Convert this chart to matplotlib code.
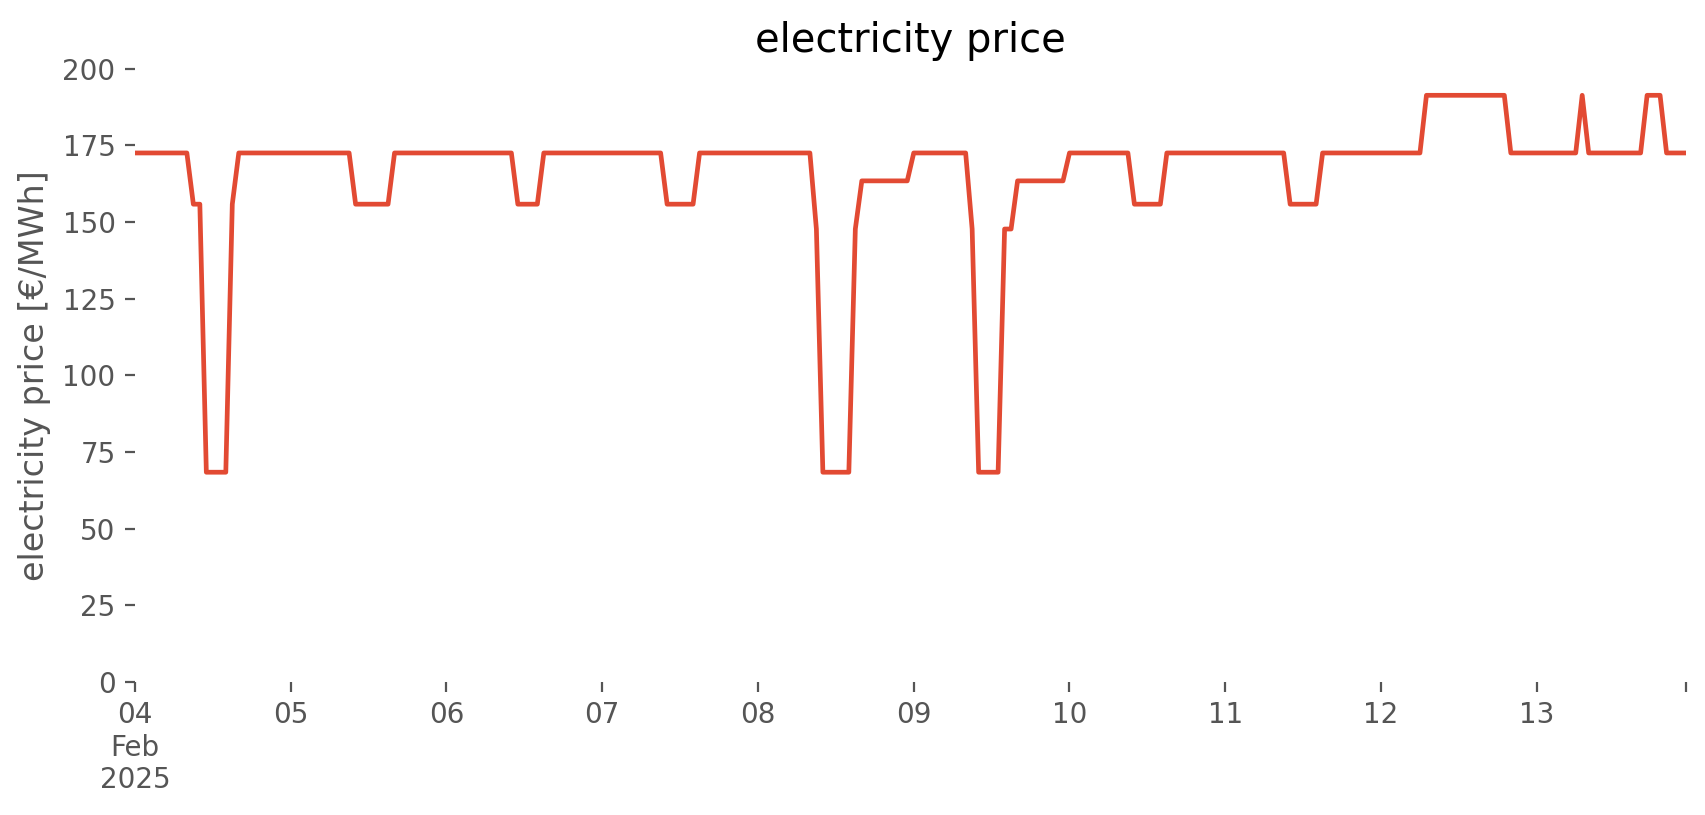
import numpy as np
import pandas as pd
import matplotlib
matplotlib.use("Agg")
import matplotlib.pyplot as plt

plt.style.use("ggplot")

# hourly electricity price, 04 Feb 2025 00:00 .. 13 Feb 2025 23:00
day_04 = [172.5, 172.5, 172.5, 172.5, 172.5, 172.5, 172.5, 172.5, 172.5, 155.8, 155.8, 68.4,
          68.4, 68.4, 68.4, 155.8, 172.5, 172.5, 172.5, 172.5, 172.5, 172.5, 172.5, 172.5]
day_05 = [172.5, 172.5, 172.5, 172.5, 172.5, 172.5, 172.5, 172.5, 172.5, 172.5, 155.8, 155.8,
          155.8, 155.8, 155.8, 155.8, 172.5, 172.5, 172.5, 172.5, 172.5, 172.5, 172.5, 172.5]
day_06 = [172.5, 172.5, 172.5, 172.5, 172.5, 172.5, 172.5, 172.5, 172.5, 172.5, 172.5, 155.8,
          155.8, 155.8, 155.8, 172.5, 172.5, 172.5, 172.5, 172.5, 172.5, 172.5, 172.5, 172.5]
day_07 = [172.5, 172.5, 172.5, 172.5, 172.5, 172.5, 172.5, 172.5, 172.5, 172.5, 155.8, 155.8,
          155.8, 155.8, 155.8, 172.5, 172.5, 172.5, 172.5, 172.5, 172.5, 172.5, 172.5, 172.5]
day_08 = [172.5, 172.5, 172.5, 172.5, 172.5, 172.5, 172.5, 172.5, 172.5, 147.7, 68.4, 68.4,
          68.4, 68.4, 68.4, 147.7, 163.4, 163.4, 163.4, 163.4, 163.4, 163.4, 163.4, 163.4]
day_09 = [172.5, 172.5, 172.5, 172.5, 172.5, 172.5, 172.5, 172.5, 172.5, 147.7, 68.4, 68.4,
          68.4, 68.4, 147.7, 147.7, 163.4, 163.4, 163.4, 163.4, 163.4, 163.4, 163.4, 163.4]
day_10 = [172.5, 172.5, 172.5, 172.5, 172.5, 172.5, 172.5, 172.5, 172.5, 172.5, 155.8, 155.8,
          155.8, 155.8, 155.8, 172.5, 172.5, 172.5, 172.5, 172.5, 172.5, 172.5, 172.5, 172.5]
day_11 = [172.5, 172.5, 172.5, 172.5, 172.5, 172.5, 172.5, 172.5, 172.5, 172.5, 155.8, 155.8,
          155.8, 155.8, 155.8, 172.5, 172.5, 172.5, 172.5, 172.5, 172.5, 172.5, 172.5, 172.5]
day_12 = [172.5, 172.5, 172.5, 172.5, 172.5, 172.5, 172.5, 191.3, 191.3, 191.3, 191.3, 191.3,
          191.3, 191.3, 191.3, 191.3, 191.3, 191.3, 191.3, 191.3, 172.5, 172.5, 172.5, 172.5]
day_13 = [172.5, 172.5, 172.5, 172.5, 172.5, 172.5, 172.5, 191.3, 172.5, 172.5, 172.5, 172.5,
          172.5, 172.5, 172.5, 172.5, 172.5, 191.3, 191.3, 191.3, 172.5, 172.5, 172.5, 172.5]

prices = day_04 + day_05 + day_06 + day_07 + day_08 + day_09 + day_10 + day_11 + day_12 + day_13
times = pd.date_range("2025-02-04 00:00", periods=len(prices), freq="h")

tick_labels = ["04\nFeb\n2025", "05", "06", "07", "08", "09", "10", "11", "12", "13"]

fig = plt.figure(figsize=(8.53, 4.075), dpi=200)
ax = fig.add_axes([0.0791, 0.1632, 0.9092, 0.7526])
ax.set_facecolor("white")
ax.grid(False)

ax.plot(times, prices, color="#E24A33", linewidth=1.7)

ticks = list(pd.date_range("2025-02-04", periods=10, freq="D")) + [times[-1]]
ax.set_xticks(ticks)
ax.set_xticklabels(tick_labels + [""])
ax.set_xlim(times[0], times[-1])
ax.set_ylim(0, 200)
ax.set_yticks([0, 25, 50, 75, 100, 125, 150, 175, 200])

for s in ax.spines.values():
    s.set_visible(False)

ax.set_ylabel("electricity price [€/MWh]")
ax.set_title("electricity price")

fig.savefig("out.png", dpi=200)
